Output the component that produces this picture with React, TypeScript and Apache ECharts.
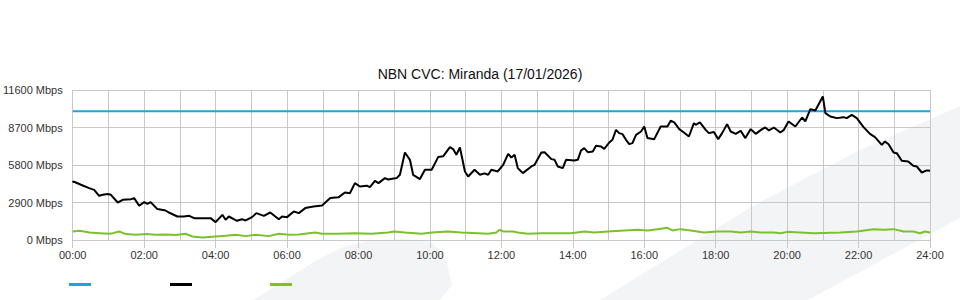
import React, { useEffect, useRef } from "react";
import * as echarts from "echarts";

const chartTitle = "NBN CVC: Miranda (17/01/2026)";
const seriesNames = ["CVC Capacity", "Traffic In", "Traffic Out"];
const seriesColors = ["#1ea3de", "#000000", "#7cc12c"];

const capacity: [number, number][] = [
  [0, 9950],
  [24, 9950],
];

const trafficIn: [number, number][] = [
  [0, 4447], [0.02, 4525], [0.23, 4270], [0.46, 4013], [0.6, 3880], [0.74, 3418], [0.84, 3495], [0.98, 3550],
  [1.07, 3495], [1.26, 2900], [1.4, 3108], [1.63, 3160], [1.72, 3240], [1.86, 2645], [2.0, 2930], [2.09, 2800],
  [2.18, 2930], [2.37, 2390], [2.6, 2280], [2.69, 2127], [2.93, 1818], [3.11, 1818], [3.26, 1870], [3.4, 1690],
  [3.63, 1690], [3.86, 1690], [4.0, 1380], [4.19, 1948], [4.28, 1560], [4.37, 1818], [4.6, 1483], [4.74, 1610],
  [4.84, 1510], [5.02, 1768], [5.14, 2080], [5.35, 1870], [5.53, 2127], [5.77, 1610], [5.86, 1818], [6.0, 1768],
  [6.19, 2205], [6.33, 2080], [6.51, 2467], [6.74, 2590], [6.98, 2670], [7.21, 3240], [7.44, 3300], [7.62, 3675],
  [7.76, 3620], [7.9, 4400], [8.04, 4140], [8.23, 4200], [8.32, 4090], [8.46, 4578], [8.56, 4400], [8.74, 4787],
  [8.83, 4680], [9.07, 4787], [9.16, 5042], [9.3, 6767], [9.44, 6200], [9.53, 5042], [9.72, 4710], [9.86, 5430],
  [10.05, 5430], [10.23, 6410], [10.37, 6470], [10.56, 7180], [10.65, 7030], [10.74, 6590], [10.84, 7155],
  [10.98, 5300], [11.07, 4910], [11.25, 5430], [11.4, 5042], [11.53, 5150], [11.63, 5042], [11.72, 5430],
  [11.9, 5300], [12.05, 5815], [12.19, 6665], [12.28, 6380], [12.37, 6590], [12.46, 5560], [12.6, 5170],
  [12.84, 5685], [12.93, 5815], [13.12, 6767], [13.21, 6790], [13.4, 6255], [13.49, 6200], [13.58, 5685],
  [13.72, 5560], [13.81, 6200], [14.04, 6150], [14.14, 6200], [14.23, 6920], [14.32, 7105], [14.42, 6790],
  [14.56, 6840], [14.65, 7285], [14.79, 7235], [14.88, 7050], [15.02, 7540], [15.11, 7750], [15.21, 8520],
  [15.3, 8265], [15.39, 8190], [15.49, 7750], [15.58, 7415], [15.67, 7490], [15.77, 8135], [15.91, 8390],
  [16.0, 8777], [16.09, 7880], [16.28, 7800], [16.46, 8777], [16.65, 8777], [16.74, 9220], [16.84, 9090],
  [16.98, 8575], [17.11, 8313], [17.25, 8004], [17.39, 9040], [17.44, 8910], [17.56, 9090], [17.72, 8520],
  [17.81, 8265], [17.95, 8350], [18.07, 7800], [18.18, 8265], [18.32, 8960], [18.42, 8390], [18.56, 8210],
  [18.7, 8445], [18.83, 7880], [18.98, 8575], [19.12, 8210], [19.3, 8575], [19.39, 8700], [19.49, 8470],
  [19.63, 8700], [19.81, 8313], [19.91, 8520], [20.04, 9165], [20.23, 8777], [20.42, 9475], [20.51, 9165],
  [20.65, 10120], [20.79, 10015], [21.0, 11100], [21.07, 9810], [21.21, 9550], [21.39, 9425], [21.58, 9500],
  [21.67, 9425], [21.81, 9680], [21.95, 9425], [22.14, 8730], [22.32, 8210], [22.46, 7960], [22.65, 7360],
  [22.74, 7620], [22.84, 7410], [22.98, 6767], [23.07, 6715], [23.21, 6125], [23.39, 6070], [23.53, 5740],
  [23.63, 5685], [23.77, 5220], [23.91, 5380], [24.0, 5350],
];

const trafficOut: [number, number][] = [
  [0, 660], [0.19, 710], [0.47, 580], [0.75, 530], [1.02, 480], [1.12, 530], [1.3, 660], [1.49, 455],
  [1.77, 400], [2.05, 455], [2.33, 400], [2.6, 430], [2.89, 380], [3.16, 480], [3.35, 270], [3.63, 195],
  [4.0, 270], [4.28, 325], [4.56, 400], [4.84, 300], [5.12, 400], [5.49, 300], [5.77, 480], [6.05, 400],
  [6.33, 430], [6.61, 530], [6.79, 580], [6.98, 480], [7.44, 480], [7.9, 530], [8.37, 480], [8.83, 580],
  [9.0, 660], [9.3, 580], [9.77, 480], [10.05, 580], [10.5, 660], [10.88, 580], [11.34, 530], [11.63, 480],
  [11.86, 580], [11.95, 790], [12.05, 660], [12.33, 660], [12.46, 580], [12.74, 480], [13.12, 530],
  [13.49, 530], [13.95, 530], [14.32, 660], [14.6, 580], [14.98, 660], [15.44, 735], [15.82, 790],
  [16.1, 735], [16.37, 840], [16.65, 945], [16.79, 735], [17.02, 840], [17.3, 735], [17.67, 580],
  [18.05, 660], [18.42, 660], [18.7, 580], [18.98, 660], [19.26, 580], [19.63, 580], [19.82, 520],
  [20.0, 630], [20.37, 580], [20.75, 520], [21.02, 545], [21.49, 580], [21.95, 660], [22.42, 840],
  [22.7, 790], [22.98, 840], [23.26, 660], [23.53, 660], [23.72, 520], [23.86, 660], [24, 580],
];

const yMax = 11600;
const yStep = 2900;
const xMax = 24;
const xStep = 2;

const FONT = "'Liberation Sans', Arial, sans-serif";

export default function App() {
  const ref = useRef<HTMLDivElement>(null);
  useEffect(() => {
    if (!ref.current) return;
    const chart = echarts.init(ref.current, null, { renderer: "svg" });
    const gridColor = "#c8c8c8";
    const wm = "#f3f4f6";
    chart.setOption({
      animation: false,
      backgroundColor: "#ffffff",
      textStyle: { fontFamily: FONT },
      title: {
        text: chartTitle,
        left: "center",
        top: 62,
        textStyle: { fontFamily: FONT, fontSize: 14, fontWeight: "normal", color: "#111" },
      },
      graphic: [
        {
          type: "polygon",
          z: -10,
          silent: true,
          shape: {
            points: [
              [253, 300], [317, 260], [345, 246], [375, 240], [405, 239], [430, 242], [443, 252],
              [448, 268], [452, 285], [440, 300],
            ],
          },
          style: { fill: wm },
        },
        {
          type: "polygon",
          z: -10,
          silent: true,
          shape: {
            points: [
              [600, 300], [730, 220], [760, 202], [860, 150], [960, 106], [960, 218], [808, 300],
            ],
          },
          style: { fill: wm },
        },
      ],
      legend: seriesNames.map((n, i) => ({
        data: [n],
        left: [69, 170, 270][i],
        top: 283,
        itemWidth: 22,
        itemHeight: 3,
        icon: "rect",
        padding: 0,
        formatter: () => "",
        selectedMode: false,
      })),
      grid: { left: 70, right: 30, top: 90, bottom: 60, containLabel: false },
      xAxis: {
        type: "value",
        min: 0,
        max: xMax,
        interval: xStep,
        axisLine: { show: false },
        axisTick: { show: true, length: 8, lineStyle: { color: gridColor } },
        axisLabel: {
          margin: 9,
          fontSize: 11,
          color: "#333",
          fontFamily: FONT,
          formatter: (v: number) => `${String(v).padStart(2, "0")}:00`,
        },
        splitLine: { show: true, lineStyle: { color: gridColor, width: 1 } },
        minorTick: { show: false, splitNumber: 2 },
        minorSplitLine: { show: true, lineStyle: { color: gridColor, width: 1 } },
      },
      yAxis: {
        type: "value",
        min: 0,
        max: yMax,
        interval: yStep,
        axisLine: { show: false },
        axisTick: { show: false },
        axisLabel: {
          margin: 10,
          fontSize: 11,
          color: "#333",
          fontFamily: FONT,
          padding: [0, 0, 4, 0],
          formatter: (v: number) => `${v} Mbps`,
        },
        splitLine: { show: true, lineStyle: { color: gridColor, width: 1 } },
      },
      series: [
        {
          name: seriesNames[0],
          type: "line",
          data: capacity,
          showSymbol: false,
          lineStyle: { color: seriesColors[0], width: 2 },
          itemStyle: { color: seriesColors[0] },
        },
        {
          name: seriesNames[1],
          type: "line",
          data: trafficIn,
          showSymbol: false,
          lineStyle: { color: seriesColors[1], width: 2 },
          itemStyle: { color: seriesColors[1] },
        },
        {
          name: seriesNames[2],
          type: "line",
          data: trafficOut,
          showSymbol: false,
          lineStyle: { color: seriesColors[2], width: 2 },
          itemStyle: { color: seriesColors[2] },
        },
      ],
    });
    return () => chart.dispose();
  }, []);
  return (
    <div
      ref={ref}
      style={{ position: "absolute", left: 0, top: 0, width: 960, height: 300 }}
    />
  );
}
